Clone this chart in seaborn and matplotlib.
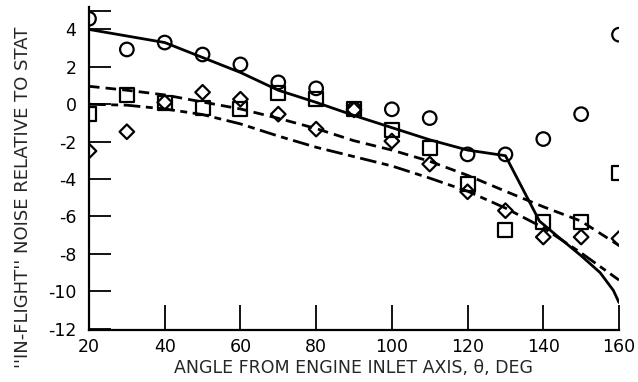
import matplotlib
matplotlib.use("Agg")
import matplotlib.pyplot as plt
import seaborn as sns
import pandas as pd

# ---- data ----
angles = [20, 30, 40, 50, 60, 70, 80, 90, 100, 110, 120, 130, 140, 150, 160]
circle_db = [4.57, 2.93, 3.30, 2.66, 2.13, 1.17, 0.85, -0.27, -0.27, -0.74,
             -2.68, -2.68, -1.86, -0.53, 3.72]
square_db = [-0.53, 0.48, 0.05, -0.20, -0.27, 0.58, 0.27, -0.25, -1.38, -2.34,
             -4.26, -6.70, -6.28, -6.28, -3.67]
diamond_db = [-2.50, -1.47, 0.10, 0.64, 0.27, -0.53, -1.33, -0.30, -1.97, -3.20,
              -4.68, -5.69, -7.10, -7.10, -7.18]

solid_angle = [20, 30, 40, 50, 60, 70, 80, 90, 100, 110, 120, 130,
               139, 144, 150, 155, 158.5, 160]
solid_db = [4.0, 3.65, 3.3, 2.5, 1.7, 0.75, 0.1, -0.6, -1.25, -1.9, -2.45, -2.75,
            -6.25, -7.1, -8.1, -9.0, -9.95, -10.6]
dashed_db = [0.96, 0.75, 0.5, 0.12, -0.25, -0.75, -1.3, -1.95, -2.45, -3.05,
             -3.8, -4.65, -5.48, -6.25, -7.55]
chain_db = [0.0, -0.05, -0.25, -0.55, -1.05, -1.7, -2.3, -2.8, -3.3, -3.95,
            -4.65, -5.55, -6.6, -7.95, -9.4]

x_ticks = [20, 40, 60, 80, 100, 120, 140, 160]
y_ticks = [-12, -10, -8, -6, -4, -2, 0, 2, 4]

xlabel = "ANGLE FROM ENGINE INLET AXIS, \u03b8, DEG"
# the reference shows only this much of the axis title (it runs off the top edge)
ylabel = "''IN-FLIGHT'' NOISE RELATIVE TO STAT"

# ---- style ----
sns.set_style("white")
plt.rcParams["font.family"] = ["DejaVu Sans"]

fig = plt.figure(figsize=(6.38, 3.82), dpi=100)
ax = fig.add_axes([89 / 638, 1 - 330 / 382, 530 / 638, 323 / 382])

curves = pd.concat([
    pd.DataFrame({"angle": solid_angle, "db": solid_db, "curve": "solid"}),
    pd.DataFrame({"angle": angles, "db": dashed_db, "curve": "dashed"}),
    pd.DataFrame({"angle": angles, "db": chain_db, "curve": "chain"}),
])
sns.lineplot(data=curves, x="angle", y="db", style="curve", units="curve",
             estimator=None, color="black", linewidth=2.0,
             dashes={"solid": "", "dashed": (3.8, 2.2), "chain": (6, 2, 2.5, 2)},
             legend=False, ax=ax, zorder=2)

mk = dict(facecolor="none", edgecolor="black", linewidth=1.6, zorder=3,
          legend=False, ax=ax)
sns.scatterplot(x=angles, y=circle_db, marker="o", s=95, **mk)
sns.scatterplot(x=angles, y=square_db, marker="s", s=100, **mk)
sns.scatterplot(x=angles, y=diamond_db, marker="D", s=55, **mk)

ax.set_xlim(20, 160)
ax.set_ylim(-12.07, 5.2)
ax.set_xticks(x_ticks)
ax.set_xticklabels([str(t) for t in x_ticks])
ax.set_yticks(y_ticks + [5])
ax.set_yticklabels([str(t) for t in y_ticks] + [""])

for s in ["top", "right"]:
    ax.spines[s].set_visible(False)
for s in ["left", "bottom"]:
    ax.spines[s].set_linewidth(1.6)
    ax.spines[s].set_color("black")

ax.tick_params(axis="y", left=True, direction="in", length=16, width=1.3, pad=9,
               labelsize=12.5, colors="black")
ax.tick_params(axis="x", bottom=True, direction="in", length=18, width=1.3, pad=6,
               labelsize=12.5, colors="black")

ax.set_xlabel(xlabel, fontsize=12.5, labelpad=2)
ax.set_ylabel(ylabel, fontsize=13, loc="bottom")
ax.yaxis.set_label_coords(-0.1075, -0.118)

fig.savefig("out.png", dpi=100)
